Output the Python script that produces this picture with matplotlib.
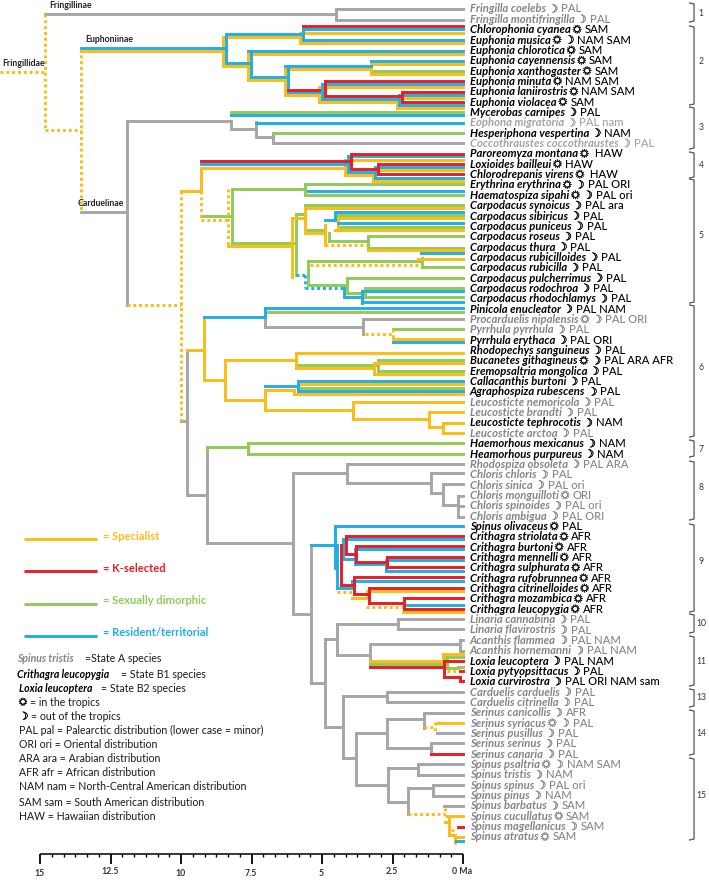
import matplotlib
matplotlib.use('Agg')
import matplotlib.pyplot as plt
import matplotlib.patheffects as pe

SUN = '\u263c'
MOON = '\u263d'

AMARELO = '#FBBC16'
VERMELHO = '#EA1C24'
VERDE = '#8FCB55'
AZUL = '#1FAEE6'
CINZA = '#A6A6A6'

# especies, de cima para baixo
SPECIES = ['Fringilla coelebs', 'Fringilla montifringilla', 'Chlorophonia cyanea', 'Euphonia musica',
           'Euphonia chlorotica', 'Euphonia cayennensis', 'Euphonia xanthogaster', 'Euphonia minuta',
           'Euphonia laniirostris', 'Euphonia violacea', 'Mycerobas carnipes', 'Eophona migratoria',
           'Hesperiphona vespertina', 'Coccothraustes coccothraustes', 'Paroreomyza montana',
           'Loxioides bailleui', 'Chlorodrepanis virens', 'Erythrina erythrina', 'Haematospiza sipahi',
           'Carpodacus synoicus', 'Carpodacus sibiricus', 'Carpodacus puniceus', 'Carpodacus roseus',
           'Carpodacus thura', 'Carpodacus rubicilloides', 'Carpodacus rubicilla', 'Carpodacus pulcherrimus',
           'Carpodacus rodochroa', 'Carpodacus rhodochlamys', 'Pinicola enucleator', 'Procarduelis nipalensis',
           'Pyrrhula pyrrhula', 'Pyrrhula erythaca', 'Rhodopechys sanguineus', 'Bucanetes githagineus',
           'Eremopsaltria mongolica', 'Callacanthis burtoni', 'Agraphospiza rubescens', 'Leucosticte nemoricola',
           'Leucosticte brandti', 'Leucosticte tephrocotis', 'Leucosticte arctoa', 'Haemorhous mexicanus',
           'Heamorhous purpureus', 'Rhodospiza obsoleta', 'Chloris chloris', 'Chloris sinica',
           'Chloris monguilloti', 'Chloris spinoides', 'Chloris ambigua', 'Spinus olivaceus',
           'Crithagra striolata', 'Crithagra burtoni', 'Crithagra mennelli', 'Crithagra sulphurata',
           'Crithagra rufobrunnea', 'Crithagra citrinelloides', 'Crithagra mozambica', 'Crithagra leucopygia',
           'Linaria cannabina', 'Linaria flavirostris', 'Acanthis flammea', 'Acanthis hornemanni',
           'Loxia leucoptera', 'Loxia pytyopsittacus', 'Loxia curvirostra', 'Carduelis carduelis',
           'Carduelis citrinella', 'Serinus canicollis', 'Serinus syriacus', 'Serinus pusillus',
           'Serinus serinus', 'Serinus canaria', 'Spinus psaltria', 'Spinus tristis', 'Spinus spinus',
           'Spinus pinus', 'Spinus barbatus', 'Spinus cucullatus', 'Spinus magellanicus', 'Spinus atratus']

# simbolos de clima de cada especie
S, M, SM = SUN, MOON, SUN + ' ' + MOON
CLIMATE = [M, M, S, SM, S, S, S, S, S, S, M, M, M, M, S, S, S, SM, SM, M, M, M, M, M, M, M, M, M, M, M, SM, M, M,
           M, SM, M, M, M, M, M, M, M, M, M, M, M, M, S, M, M, S, S, S, S, S, S, S, S, S, M, M, M, M, M, M, M, M,
           M, M, SM, M, M, M, SM, M, M, M, M, S, M, S]
DISTRIB = ['PAL', 'PAL', 'SAM', 'NAM SAM', 'SAM', 'SAM', 'SAM', 'NAM SAM', 'NAM SAM', 'SAM', 'PAL', 'PAL nam',
           'NAM', 'PAL', ' HAW', 'HAW', ' HAW', 'PAL ORI', 'PAL ori', 'PAL ara', 'PAL', 'PAL', 'PAL', 'PAL', 'PAL',
           'PAL', 'PAL', 'PAL', 'PAL', 'PAL NAM', 'PAL ORI', 'PAL', 'PAL ORI', 'PAL', 'PAL ARA AFR', 'PAL', 'PAL',
           'PAL', 'PAL', 'PAL', 'NAM', 'PAL', 'NAM', 'NAM', 'PAL ARA', 'PAL', 'PAL ori', 'ORI', 'PAL ori', 'PAL ORI',
           'PAL', 'AFR', 'AFR', 'AFR', 'AFR', 'AFR', 'AFR', 'AFR', 'AFR', 'PAL', 'PAL', 'PAL NAM', 'PAL NAM',
           'PAL NAM', 'PAL', 'PAL ORI NAM sam', 'PAL', 'PAL', 'AFR', 'PAL', 'PAL', 'PAL', 'PAL', 'NAM SAM', 'NAM',
           'PAL ori', 'NAM', 'SAM', 'SAM', 'SAM', 'SAM']

# linhas das especies em estado A (texto cinza)
STATE_A = [0, 1, 11, 13, 30, 31, 38, 39, 41, 44, 45, 46, 47, 48, 49, 59, 60, 61, 62, 66, 67, 68, 69, 70,
           71, 72, 73, 74, 75, 76, 77, 78, 79, 80]
PALE = [11, 13]

# ramos horizontais: (posicao vertical, idade inicial Ma, idade final Ma)
GRAY_H = [(14, 14.82, 4.50), (9, 4.50, 0), (20, 4.50, 0), (212, 13.55, 11.91), (121, 11.91, 8.23),
          (129, 8.23, 7.34), (137, 7.34, 6.74), (143.5, 6.74, 0), (319.5, 3.55, 0), (327, 7.02, 3.55),
          (495, 9.79, 9.08), (543, 9.08, 6.03), (473, 6.03, 4.11), (464, 4.11, 0), (483, 4.11, 1.13),
          (473, 1.13, 0), (493, 1.13, 0.71), (484, 0.71, 0), (505, 0.71, 0.18), (496, 0.18, 0),
          (506, 0.18, 0), (517, 0.18, 0), (614, 6.03, 5.39), (624, 4.47, 2.30), (619, 2.30, 0),
          (629.5, 2.30, 0), (639, 4.89, 4.47), (683, 5.39, 4.89), (655, 4.47, 3.30), (644, 3.30, 0.11),
          (640, 0.11, 0), (651, 0.11, 0), (696, 4.26, 2.70), (692, 2.70, 0), (702, 2.70, 0),
          (727, 4.89, 4.26), (758, 4.26, 3.79), (733, 3.79, 2.70), (719, 2.70, 1.38), (713, 1.38, 0),
          (733.5, 0.92, 0), (748, 2.70, 1.13), (743.5, 1.13, 0), (785, 3.79, 2.66), (768, 2.66, 1.60),
          (764.5, 1.60, 0), (775, 1.60, 0), (802, 2.66, 1.95), (788, 1.95, 1.06), (785.5, 1.06, 0),
          (796, 1.06, 0), (806, 0.67, 0), (421, 10.0, 9.79)]
GRAY_V = [(4.50, 9, 20), (11.91, 121, 305), (8.23, 121, 129), (7.34, 122, 137), (6.74, 133, 143.5),
          (7.02, 317, 327), (3.55, 319.5, 334), (9.79, 350, 495), (9.08, 450, 543), (6.03, 473, 614),
          (4.11, 464, 483), (1.13, 473, 493), (0.71, 484, 505), (0.18, 496, 517), (5.39, 545, 683),
          (4.47, 624, 655), (2.30, 619, 629.5), (4.89, 639, 727), (3.30, 644, 667), (0.11, 640, 651),
          (4.26, 696, 758), (2.70, 692, 702), (3.79, 733, 785), (2.70, 719, 748), (1.38, 713, 728),
          (1.13, 743.5, 754), (2.66, 768, 802), (1.60, 764.5, 775), (1.95, 788, 814), (1.06, 785.5, 796)]

BLUE_H = [(48, 13.55, 8.51), (34, 8.40, 5.78), (63, 8.40, 7.62), (29.5, 5.67, 0), (40.5, 5.67, 0),
          (51, 7.62, 0), (77, 7.52, 6.31), (66, 6.31, 3.26), (92.5, 6.21, 5.11), (61, 3.26, 0),
          (84.5, 5.0, 0), (99, 5.0, 2.34), (95, 2.27, 0), (105, 2.27, 0), (115, 8.23, 0), (123, 7.34, 0),
          (164.5, 9.29, 3.97), (156.5, 4.08, 0), (172, 4.08, 3.19), (167, 3.12, 0), (178, 3.12, 0),
          (191, 5.50, 0), (212, 4.54, 0), (220, 4.89, 4.54), (223, 4.43, 0), (253.5, 1.49, 0),
          (297, 4.22, 3.58), (291, 3.58, 0), (302, 3.58, 0), (317, 9.18, 7.02), (308.5, 7.02, 0),
          (342, 2.48, 0), (386, 7.02, 5.85), (381, 5.85, 0), (391, 5.85, 0), (526.5, 4.54, 0),
          (545, 5.39, 4.54), (539, 4.26, 0), (559, 4.26, 3.83), (549.5, 3.83, 0), (564, 3.79, 2.77),
          (560, 2.70, 0), (571, 2.73, 0), (581, 3.94, 0), (588, 4.47, 3.97), (605, 2.06, 0), (841, 0.25, 0)]
BLUE_V = [(8.40, 34, 63), (5.67, 29.5, 40.5), (7.52, 51, 77), (6.21, 66, 92.5), (5.0, 84.5, 99),
          (2.27, 95, 105), (4.08, 156.5, 172), (3.12, 167, 178), (4.54, 212, 220), (4.22, 288, 297),
          (3.58, 291, 303), (7.02, 308, 317), (5.85, 381, 391), (4.54, 527, 568), (4.47, 545, 588),
          (4.26, 539, 559), (3.83, 549.5, 564), (2.73, 560, 571), (3.94, 581, 588)]
BLUE_DOT_H = [(275, 5.92, 5.50), (288, 5.60, 4.22)]
BLUE_DOT_V = [(5.60, 275, 288)]

YELLOW_H = [(51, 13.55, 8.51), (37, 8.51, 5.78), (66, 8.51, 7.62), (33, 5.78, 0), (43.5, 5.78, 0),
            (54, 7.62, 0), (80, 7.62, 6.31), (69, 6.31, 3.26), (95, 6.31, 5.11), (64, 3.26, 0), (74, 3.26, 0),
            (87, 5.11, 0), (102, 5.11, 2.34), (98, 2.34, 0), (108, 2.34, 0), (168, 9.29, 4.18),
            (160, 4.18, 0), (175, 4.18, 3.19), (170, 3.19, 0), (181, 3.19, 0), (191, 10.0, 9.29),
            (246, 8.33, 6.06), (218, 6.06, 5.60), (208, 5.60, 0), (233, 5.60, 4.89), (218, 4.54, 0),
            (230, 4.54, 0), (250, 3.37, 0), (259, 1.60, 0), (350, 9.79, 9.18), (380, 9.18, 8.44),
            (360, 8.44, 5.92), (353, 5.92, 0), (368, 5.92, 3.16), (363, 3.16, 0), (374, 3.16, 0),
            (400, 8.44, 7.02), (390, 7.02, 5.99), (384, 5.85, 0), (394, 5.99, 0), (410, 7.02, 3.90),
            (402, 3.90, 0), (419, 3.90, 1.21), (412.5, 1.21, 0), (427, 1.21, 0.71), (423, 0.71, 0),
            (433.5, 0.71, 0), (339, 2.48, 0), (591, 3.40, 0), (598, 3.94, 3.40), (612, 2.13, 0),
            (661.5, 3.30, 0.71), (654, 0.71, 0), (723, 0.92, 0), (816, 0.57, 0), (822, 0.64, 0.50),
            (835, 0.50, 0.28), (837, 0.28, 0)]
YELLOW_V = [(8.51, 37, 66), (5.78, 37, 43.5), (7.62, 54, 80), (6.31, 69, 95), (3.26, 64, 74), (5.11, 87, 102),
            (2.34, 98, 108), (9.29, 168, 191), (4.18, 160, 175), (3.19, 170, 181), (6.06, 218, 277),
            (5.60, 208, 233), (4.89, 225, 245), (4.43, 218, 230), (9.18, 317, 380), (8.44, 360, 400),
            (5.92, 353, 368), (3.16, 363, 374), (7.02, 390, 410), (5.99, 390, 394), (3.90, 402, 419),
            (1.21, 412.5, 427), (0.71, 423, 433.5), (3.40, 591, 598), (0.71, 654, 661.5), (0.50, 816, 835),
            (0.28, 835, 843)]
YELLOW_DOT_H = [(72, 16.42, 14.82), (130, 14.82, 13.55), (305, 11.91, 10.0), (220, 9.29, 8.33),
                (245, 4.89, 3.40), (265, 5.43, 1.55), (334, 3.48, 2.48), (592, 4.47, 3.90), (607, 3.44, 2.13),
                (671, 0.57, 0.14), (727, 1.38, 0.99), (814, 1.95, 0.64), (830, 0.43, 0.28)]
YELLOW_DOT_V = [(14.82, 14, 130), (13.55, 49, 212), (10.0, 191, 421), (9.29, 191, 220), (8.33, 189, 246),
                (2.48, 329, 340), (0.99, 722, 733), (0.64, 808, 816)]

GREEN_H = [(71, 3.26, 0), (112, 8.23, 0), (133, 6.74, 0), (189, 8.19, 5.60), (184, 5.60, 0), (195, 5.50, 0),
           (216, 9.29, 8.19), (243, 8.19, 5.92), (214, 5.92, 5.60), (205, 5.60, 0), (215, 4.43, 0),
           (227, 4.43, 0), (230, 5.60, 4.89), (241, 4.75, 3.37), (236, 3.37, 0), (248, 3.37, 0), (267, 1.45, 0),
           (261, 5.50, 1.52), (285, 5.50, 4.11), (278, 4.11, 0), (293, 4.11, 3.48), (288, 3.48, 0),
           (297, 3.48, 0), (312, 6.95, 0), (329, 2.48, 0), (365, 5.92, 3.01), (360, 3.01, 0), (371, 3.01, 0),
           (388.5, 5.85, 0), (447, 9.08, 7.62), (443.5, 7.62, 0), (454, 7.62, 0), (664, 3.30, 0.67),
           (657.5, 0.67, 0), (668, 0.57, 0.18), (667, 0.18, 0)]
GREEN_V = [(8.19, 189, 243), (5.60, 184, 195), (9.08, 447, 450), (5.92, 214, 275), (5.50, 261, 285),
           (4.75, 233, 241), (3.37, 236, 248), (1.45, 258, 267), (4.11, 278, 293), (3.48, 288, 297),
           (3.01, 360, 371), (7.62, 443.5, 454), (0.67, 657.5, 664), (0.57, 660, 668)]

RED_H = [(26, 5.67, 0), (81, 4.89, 0), (96, 4.89, 2.16), (92, 2.16, 0), (102, 2.16, 0), (90, 6.21, 5.11),
         (161, 9.29, 3.97), (154, 3.97, 0), (169, 3.97, 3.01), (164, 3.01, 0), (174, 3.01, 0), (536, 4.15, 0),
         (554, 4.15, 3.79), (546, 3.79, 0), (562, 3.79, 2.70), (557, 2.70, 0), (567, 2.70, 0), (577.5, 3.87, 0),
         (585, 4.33, 3.87), (594, 3.87, 3.33), (588, 3.33, 0), (603, 3.33, 2.09), (598, 2.09, 0), (609, 2.09, 0),
         (667.5, 3.30, 0.67), (661, 0.67, 0), (677, 0.67, 0.11), (681, 0.11, 0), (671, 0.11, 0), (754, 1.13, 0),
         (827, 0.18, 0)]
RED_V = [(4.89, 81, 96), (2.16, 92, 102), (3.97, 154, 169), (3.01, 164, 174), (4.33, 545, 585), (4.15, 536, 554),
         (3.79, 546, 562), (2.70, 557, 567), (3.87, 578, 594), (3.33, 588, 603), (2.09, 598, 609), (0.67, 661, 677),
         (0.11, 677, 681)]

# grupos numerados a direita
CLADE_IDS = ['1', '2', '3', '4', '5', '6', '7', '8', '9', '10', '11', '13', '14', '15']
CLADE_TOP = [3, 26, 107, 152, 179, 305, 440, 461, 524, 614, 636, 689, 710, 758]
CLADE_BOTTOM = [22, 105, 149, 178, 303, 437, 457, 520, 612, 633, 686, 707, 755, 840]
CLADE_LABEL = [13, 62, 128, 165, 236, 367, 449, 487, 562, 623, 661, 698, 733, 796]

SUBFAMILIES = ['Fringillinae', 'Euphoniinae', 'Fringillidae', 'Carduelinae']
SUBFAMILY_AGE = [14.68, 13.40, 16.35, 13.65]
SUBFAMILY_Y = [5, 40, 63, 203]

LEGEND_NAMES = ['= Specialist', '= K-selected', '= Sexually dimorphic', '= Resident/territorial']
LEGEND_COLORS = [AMARELO, VERMELHO, VERDE, AZUL]
LEGEND_Y = [539, 571, 604, 636]

KEY_SYMBOLS = [S, M]
KEY_SYMBOL_TEXT = ['= in the tropics', '= out of the tropics']
KEY_SYMBOL_Y = [702, 716]
KEY_TEXT = ['PAL pal = Palearctic distribution (lower case = minor)', 'ORI ori = Oriental distribution',
            'ARA ara = Arabian distribution', 'AFR afr = African distribution',
            'NAM nam = North-Central American distribution', 'SAM sam = South American distribution',
            'HAW = Hawaiian distribution']
KEY_Y = [730.5, 745, 758.7, 773, 787, 802, 816]

AXIS_MAJOR = [15, 12.5, 10, 7.5, 5, 2.5, 0]
AXIS_LABELS = ['15', '12.5', '10', '7.5', '5', '2.5', '0 Ma']
AXIS_LABEL_Y = [873, 871, 874, 873, 873, 872, 872]
MINOR_PER_MAJOR = 6

FONT = ['Lato', 'DejaVu Sans']
LW = 2.1
DOTS = (0, (1.0, 1.0))
TRACO = 0.22

fig = plt.figure(figsize=(7.09, 8.8), dpi=100)
ax = fig.add_axes([0, 0, 1, 1])
ax.set_xlim(16.42, -8.72)
ax.set_ylim(880, 0)
ax.axis('off')


def ramos(h, v, cor, z, estilo='solid', cap='projecting'):
    ax.hlines([r[0] for r in h], [r[1] for r in h], [r[2] for r in h], colors=cor, lw=LW,
              linestyles=estilo, zorder=z, capstyle=cap)
    if v:
        ax.vlines([r[0] for r in v], [r[1] for r in v], [r[2] for r in v], colors=cor, lw=LW,
                  linestyles=estilo, zorder=z, capstyle=cap)


ramos(GRAY_H, GRAY_V, CINZA, 2)
ramos(GREEN_H, GREEN_V, VERDE, 3)
ramos(YELLOW_DOT_H, YELLOW_DOT_V, AMARELO, 3, DOTS, 'butt')
ramos(BLUE_DOT_H, BLUE_DOT_V, AZUL, 3, DOTS, 'butt')
ramos(YELLOW_H, YELLOW_V, AMARELO, 4)
ramos(BLUE_H, BLUE_V, AZUL, 5)
ramos(RED_H, RED_V, VERMELHO, 6)

fig.canvas.draw()
rend = fig.canvas.get_renderer()
inv = ax.transData.inverted()


def depois(t, folga):
    # idade logo a direita de um texto ja colocado
    return inv.transform((t.get_window_extent(rend).x1 + folga, 0))[0]


# nomes nas pontas
for i, nome in enumerate(SPECIES):
    cor = 'black'
    if i in STATE_A:
        cor = '#A3A3A3' if i in PALE else '#858585'
    y = 9 + 10.35 * i
    t = ax.text(-0.24, y, nome, style='italic', weight='bold', fontsize=8.1, color=cor,
                family=FONT, va='center', ha='left')
    sim = ax.text(depois(t, 2), y, CLIMATE[i], fontsize=8.1, color=cor, family=FONT, va='center',
                  ha='left', path_effects=[pe.withStroke(linewidth=TRACO, foreground=cor)])
    ax.text(depois(sim, 3), y, DISTRIB[i], fontsize=8.1, color=cor, family=FONT, va='center', ha='left',
            weight='medium')

for nome, idade, y in zip(SUBFAMILIES, SUBFAMILY_AGE, SUBFAMILY_Y):
    ax.text(idade, y, nome, fontsize=6.3, weight='bold', family=FONT, va='center', color='#222222')

# colchetes dos grupos
for gid, topo, base, meio in zip(CLADE_IDS, CLADE_TOP, CLADE_BOTTOM, CLADE_LABEL):
    ax.plot([-8.03, -8.19, -8.19, -8.03], [topo, topo + 1, base - 1, base], color='#555555', lw=0.9)
    ax.text(-8.44, meio, gid, fontsize=6.2, family=FONT, ha='center', va='center', color='#333333')

# legenda
for nome, cor, y in zip(LEGEND_NAMES, LEGEND_COLORS, LEGEND_Y):
    ax.hlines(y, 15.57, 12.98, colors=cor, lw=LW)
    ax.text(12.77, y - 3, nome, color=cor, weight='bold', fontsize=8.0, family=FONT, va='center')

ax.text(15.82, 659, 'Spinus tristis', style='italic', weight='bold', fontsize=7.6, color='#858585',
        family=FONT, va='center')
ax.text(13.40, 659, '=State A species', fontsize=7.6, family=FONT, va='center', color='#1A1A1A')
ax.text(15.82, 674, 'Crithagra leucopygia', style='italic', weight='bold', fontsize=7.6, family=FONT,
        va='center')
ax.text(12.13, 674, '= State B1 species', fontsize=7.6, family=FONT, va='center', color='#1A1A1A')
ax.text(15.75, 688, 'Loxia leucoptera', style='italic', weight='bold', fontsize=7.6, family=FONT,
        va='center')
ax.text(12.84, 688, '= State B2 species', fontsize=7.6, family=FONT, va='center', color='#1A1A1A')
for sinal, linha, y in zip(KEY_SYMBOLS, KEY_SYMBOL_TEXT, KEY_SYMBOL_Y):
    t = ax.text(15.75, y, sinal, fontsize=7.6, family=FONT, va='center', color='black',
                path_effects=[pe.withStroke(linewidth=TRACO, foreground='black')])
    ax.text(depois(t, 3), y, linha, fontsize=7.6, family=FONT, va='center', color='#1A1A1A')
for linha, y in zip(KEY_TEXT, KEY_Y):
    ax.text(15.75, y, linha, fontsize=7.6, family=FONT, va='center', color='#1A1A1A')

# escala de tempo
ax.hlines(854, 15, 0, colors='black', lw=1.1)
for m in AXIS_MAJOR:
    ax.vlines(m, 854, 864, colors='black', lw=1.3)
passo = (AXIS_MAJOR[0] - AXIS_MAJOR[1]) / MINOR_PER_MAJOR
for i in range(1, 6 * MINOR_PER_MAJOR):
    if i % MINOR_PER_MAJOR != 0:
        ax.vlines(i * passo, 854, 857.5, colors='black', lw=1.0)
for m, rot, y in zip(AXIS_MAJOR, AXIS_LABELS, AXIS_LABEL_Y):
    ax.text(m + 0.02, y, rot, fontsize=6.3, weight='bold', family=FONT, ha='center', va='center',
            color='#333333')

fig.savefig('out.png', dpi=100)
